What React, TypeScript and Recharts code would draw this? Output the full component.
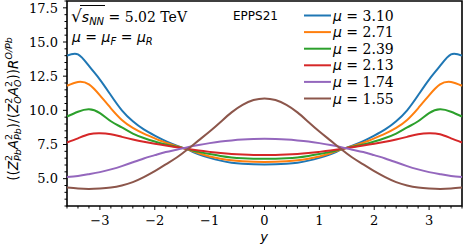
import { LineChart, Line, XAxis, YAxis, ReferenceArea } from 'recharts'

const yValues = [
  -3.6, -3.4, -3.2, -3.0, -2.8, -2.6, -2.4, -2.2, -2.0, -1.8, -1.6, -1.4, -1.2, -1.0, -0.8, -0.6, -0.4, -0.2, 0,
  0.2, 0.4, 0.6, 0.8, 1.0, 1.2, 1.4, 1.6, 1.8, 2.0, 2.2, 2.4, 2.6, 2.8, 3.0, 3.2, 3.4, 3.6,
]

const mu310 = [
  14.0, 14.1, 13.25, 12.25, 11.1, 10.0, 9.2, 8.6, 8.15, 7.75, 7.42, 7.12, 6.78, 6.52, 6.32, 6.17, 6.09, 6.05, 6.04,
  6.05, 6.09, 6.17, 6.32, 6.52, 6.78, 7.12, 7.42, 7.75, 8.15, 8.6, 9.2, 10.0, 11.1, 12.25, 13.25, 14.1, 14.0,
]
const mu271 = [
  11.8, 12.08, 11.9, 11.1, 10.15, 9.3, 8.72, 8.3, 7.95, 7.63, 7.38, 7.14, 6.86, 6.62, 6.46, 6.34, 6.27, 6.23, 6.22,
  6.23, 6.27, 6.34, 6.46, 6.62, 6.86, 7.14, 7.38, 7.63, 7.95, 8.3, 8.72, 9.3, 10.15, 11.1, 11.9, 12.08, 11.8,
]
const mu239 = [
  9.55, 9.9, 10.08, 9.8, 9.2, 8.75, 8.3, 7.98, 7.72, 7.5, 7.33, 7.16, 6.96, 6.8, 6.66, 6.55, 6.49, 6.46, 6.45,
  6.46, 6.49, 6.55, 6.66, 6.8, 6.96, 7.16, 7.33, 7.5, 7.72, 7.98, 8.3, 8.75, 9.2, 9.8, 10.08, 9.9, 9.55,
]
const mu213 = [
  7.65, 7.95, 8.25, 8.33, 8.25, 8.06, 7.87, 7.7, 7.55, 7.42, 7.3, 7.18, 7.06, 6.96, 6.87, 6.8, 6.76, 6.74, 6.73,
  6.74, 6.76, 6.8, 6.87, 6.96, 7.06, 7.18, 7.3, 7.42, 7.55, 7.7, 7.87, 8.06, 8.25, 8.33, 8.25, 7.95, 7.65,
]
const mu174 = [
  5.12, 5.2, 5.33, 5.48, 5.68, 5.92, 6.2, 6.48, 6.72, 6.95, 7.12, 7.3, 7.46, 7.6, 7.72, 7.8, 7.86, 7.9, 7.92,
  7.9, 7.86, 7.8, 7.72, 7.6, 7.46, 7.3, 7.12, 6.95, 6.72, 6.48, 6.2, 5.92, 5.68, 5.48, 5.33, 5.2, 5.12,
]
const mu155 = [
  4.35, 4.28, 4.25, 4.28, 4.35, 4.5, 4.75, 5.12, 5.55, 6.05, 6.55, 7.15, 7.8, 8.45, 9.15, 9.85, 10.4, 10.75, 10.87,
  10.75, 10.4, 9.85, 9.15, 8.45, 7.8, 7.15, 6.55, 6.05, 5.55, 5.12, 4.75, 4.5, 4.35, 4.28, 4.25, 4.28, 4.35,
]

const muLabels = ['3.10', '2.71', '2.39', '2.13', '1.74', '1.55']
const seriesValues = [mu310, mu271, mu239, mu213, mu174, mu155]
const colors = ['#1f77b4', '#ff7f0e', '#2ca02c', '#d62728', '#9467bd', '#8c564b']

const yMajorTicks = [5, 7.5, 10, 12.5, 15, 17.5]
const xMajorTicks = [-3, -2, -1, 0, 1, 2, 3]

const yAllTicks = Array.from({ length: 31 }, (_, i) => Math.round((3 + i * 0.5) * 10) / 10)
const xAllTicks = Array.from({ length: 37 }, (_, i) => Math.round((-3.6 + i * 0.2) * 10) / 10)

const data = yValues.map((y, i) => {
  const row: Record<string, number> = { y }
  seriesValues.forEach((s, k) => {
    row['s' + k] = s[i]
  })
  return row
})

const serif = 'DejaVu Serif, serif'
const sans = 'DejaVu Sans, sans-serif'

function YTick(props: any) {
  const { x, y, payload } = props
  const v = payload.value
  const major = yMajorTicks.includes(v)
  return (
    <g>
      <line x1={x} x2={x - (major ? 4 : 2.5)} y1={y} y2={y} stroke="#000" strokeWidth={1} />
      {major && (
        <text x={x - 9} y={y} dy="0.36em" textAnchor="end" fontFamily={serif} fontSize={13} fill="#000">
          {v.toFixed(1)}
        </text>
      )}
    </g>
  )
}

function XTick(props: any) {
  const { x, y, payload } = props
  const v = payload.value
  const major = xMajorTicks.includes(v)
  return (
    <g>
      <line x1={x} x2={x} y1={y} y2={y + (major ? 4 : 2.5)} stroke="#000" strokeWidth={1} />
      {major && (
        <text x={x} y={y + 19} textAnchor="middle" fontFamily={serif} fontSize={13} fill="#000">
          {v < 0 ? '\u2212' + Math.abs(v) : String(v)}
        </text>
      )}
    </g>
  )
}

function Overlay() {
  return (
    <svg width={466} height={248} style={{ position: 'absolute', left: 0, top: 0, pointerEvents: 'none' }}>
      {/* y axis label */}
      <text transform="translate(18,109) rotate(-90)" textAnchor="middle" fontFamily={sans} fontSize={13.5} fill="#000">
        <tspan>((</tspan>
        <tspan fontStyle="italic">Z</tspan>
        <tspan fontSize={9.5} dy={-6}>2</tspan>
        <tspan fontSize={9.5} fontStyle="italic" dx={-6} dy={9}>Pb</tspan>
        <tspan fontStyle="italic" dy={-3}>A</tspan>
        <tspan fontSize={9.5} dy={-6}>2</tspan>
        <tspan fontSize={9.5} fontStyle="italic" dx={-6} dy={9}>Pb</tspan>
        <tspan dy={-3}>)/(</tspan>
        <tspan fontStyle="italic">Z</tspan>
        <tspan fontSize={9.5} dy={-6}>2</tspan>
        <tspan fontSize={9.5} fontStyle="italic" dx={-6} dy={9}>O</tspan>
        <tspan fontStyle="italic" dy={-3}>A</tspan>
        <tspan fontSize={9.5} dy={-6}>2</tspan>
        <tspan fontSize={9.5} fontStyle="italic" dx={-6} dy={9}>O</tspan>
        <tspan dy={-3}>))</tspan>
        <tspan fontStyle="italic">R</tspan>
        <tspan fontSize={9.5} fontStyle="italic" dy={-6}>O/Pb</tspan>
      </text>

      {/* x axis label */}
      <text x={264} y={241} textAnchor="middle" fontFamily={sans} fontStyle="italic" fontSize={13} fill="#000">
        y
      </text>

      {/* energy annotation */}
      <text x={71} y={22} fontFamily={sans} fontSize={14} fill="#000">
        <tspan fontSize={17}>√</tspan>
        <tspan fontStyle="italic">s</tspan>
        <tspan fontSize={10} fontStyle="italic" dy={3}>NN</tspan>
        <tspan dy={-3}> = </tspan>
        <tspan fontFamily={serif}>5.02 TeV</tspan>
      </text>
      <line x1={80} x2={105} y1={5.5} y2={5.5} stroke="#000" strokeWidth={1} />

      <text x={72} y={42} fontFamily={sans} fontSize={14} fill="#000">
        <tspan fontStyle="italic">μ</tspan>
        <tspan> = </tspan>
        <tspan fontStyle="italic">μ</tspan>
        <tspan fontSize={10} fontStyle="italic" dy={3}>F</tspan>
        <tspan dy={-3}> = </tspan>
        <tspan fontStyle="italic">μ</tspan>
        <tspan fontSize={10} fontStyle="italic" dy={3}>R</tspan>
      </text>

      <text x={233} y={20} fontFamily={sans} fontSize={12} fill="#000">
        EPPS21
      </text>

      {/* legend */}
      {muLabels.map((m, i) => {
        const cy = 15.5 + i * 16.6
        return (
          <g key={m}>
            <line x1={304} x2={331} y1={cy} y2={cy} stroke={colors[i]} strokeWidth={2} />
            <text x={333} y={cy + 5} fontSize={14} fill="#000">
              <tspan fontFamily={sans} fontStyle="italic">μ</tspan>
              <tspan fontFamily={serif}> = {m}</tspan>
            </text>
          </g>
        )
      })}
    </svg>
  )
}

export default function App() {
  return (
    <div style={{ position: 'fixed', left: 0, top: 0, width: 466, height: 248, background: '#fff' }}>
      <LineChart width={466} height={248} data={data} margin={{ top: 1, right: 4, bottom: 12, left: 0 }}>
        <XAxis
          dataKey="y"
          type="number"
          domain={[-3.6, 3.6]}
          ticks={xAllTicks}
          interval={0}
          height={30}
          axisLine={false}
          tickLine={false}
          tickSize={0}
          tickMargin={0}
          tick={<XTick />}
        />
        <YAxis
          type="number"
          domain={[3, 18]}
          ticks={yAllTicks}
          interval={0}
          width={67}
          axisLine={false}
          tickLine={false}
          tickSize={0}
          tickMargin={0}
          tick={<YTick />}
        />
        {seriesValues.map((_, k) => (
          <Line
            key={k}
            dataKey={'s' + k}
            type="natural"
            stroke={colors[k]}
            strokeWidth={2}
            dot={false}
            isAnimationActive={false}
          />
        ))}
        <ReferenceArea x1={-3.6} x2={3.6} y1={3} y2={18} fill="none" stroke="#000" strokeWidth={1.6} fillOpacity={0} />
      </LineChart>
      <Overlay />
    </div>
  )
}
